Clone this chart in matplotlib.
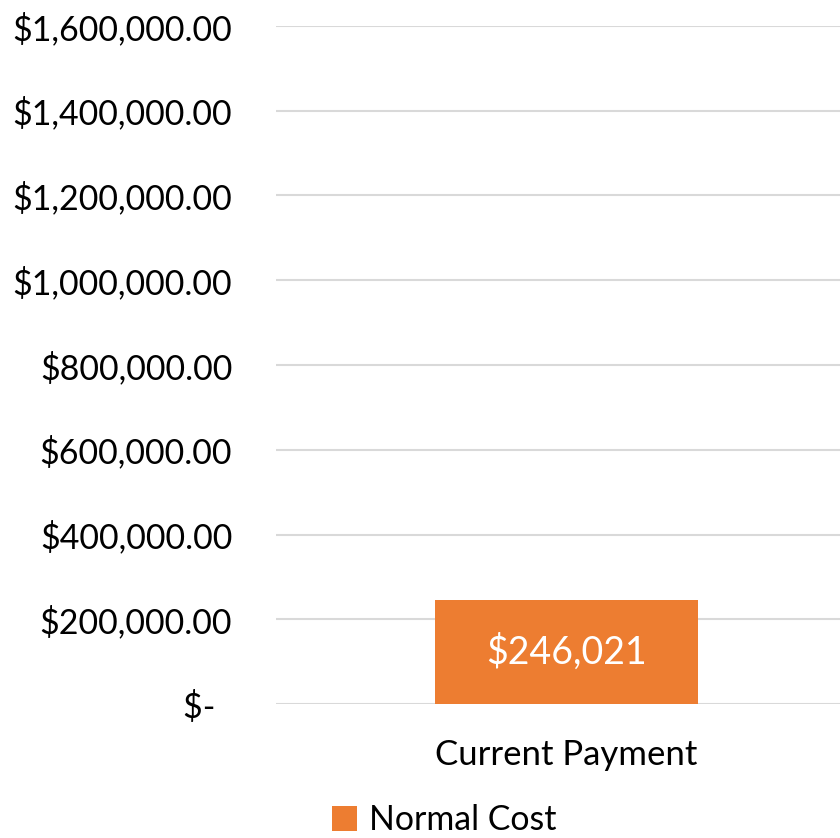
import matplotlib.pyplot as plt
from matplotlib.ticker import FuncFormatter
from matplotlib.patches import Patch

# Data
categories = ["Current Payment"]
normal_cost = [246021]
series_name = "Normal Cost"
y_ticks = [0, 200000, 400000, 600000, 800000, 1000000, 1200000, 1400000, 1600000]

plt.rcParams['font.family'] = ['Lato', 'DejaVu Sans']

fig = plt.figure(figsize=(8.4, 8.38), dpi=100)
ax = fig.add_axes([276 / 840, 134 / 838, 1 - 276 / 840, (704 - 26) / 838])

bar_color = '#ED7D31'
x = list(range(len(categories)))
bars = ax.bar(x, normal_cost, width=0.4527, color=bar_color, zorder=3)

for rect, v in zip(bars, normal_cost):
    ax.text(rect.get_x() + rect.get_width() / 2, v / 2, "${:,.0f}".format(v),
            ha='center', va='center', color='white', fontsize=27, zorder=4)

ax.set_xlim(-0.5, 0.4707)
ax.set_ylim(0, 1600000)
ax.set_yticks(y_ticks)


def money(v, pos):
    if v == 0:
        return "$-  "
    return "${:,.2f}".format(v)


ax.yaxis.set_major_formatter(FuncFormatter(money))
ax.set_xticks(x)
ax.set_xticklabels(categories)
ax.tick_params(axis='y', length=0, labelsize=24.4, pad=31.5)
ax.tick_params(axis='x', length=0, labelsize=25, pad=25)
ax.grid(axis='y', color='#d9d9d9', linewidth=1.5, zorder=0)
for s in ax.spines.values():
    s.set_visible(False)

handles = [Patch(facecolor=bar_color, label=series_name)]
fig.legend(handles=handles, loc='center', bbox_to_anchor=(444 / 840, 1 - 820 / 838),
           frameon=False, fontsize=24.4, handlelength=0.75, handleheight=0.75,
           handletextpad=0.35, borderpad=0)

fig.savefig("out.png", dpi=100)
